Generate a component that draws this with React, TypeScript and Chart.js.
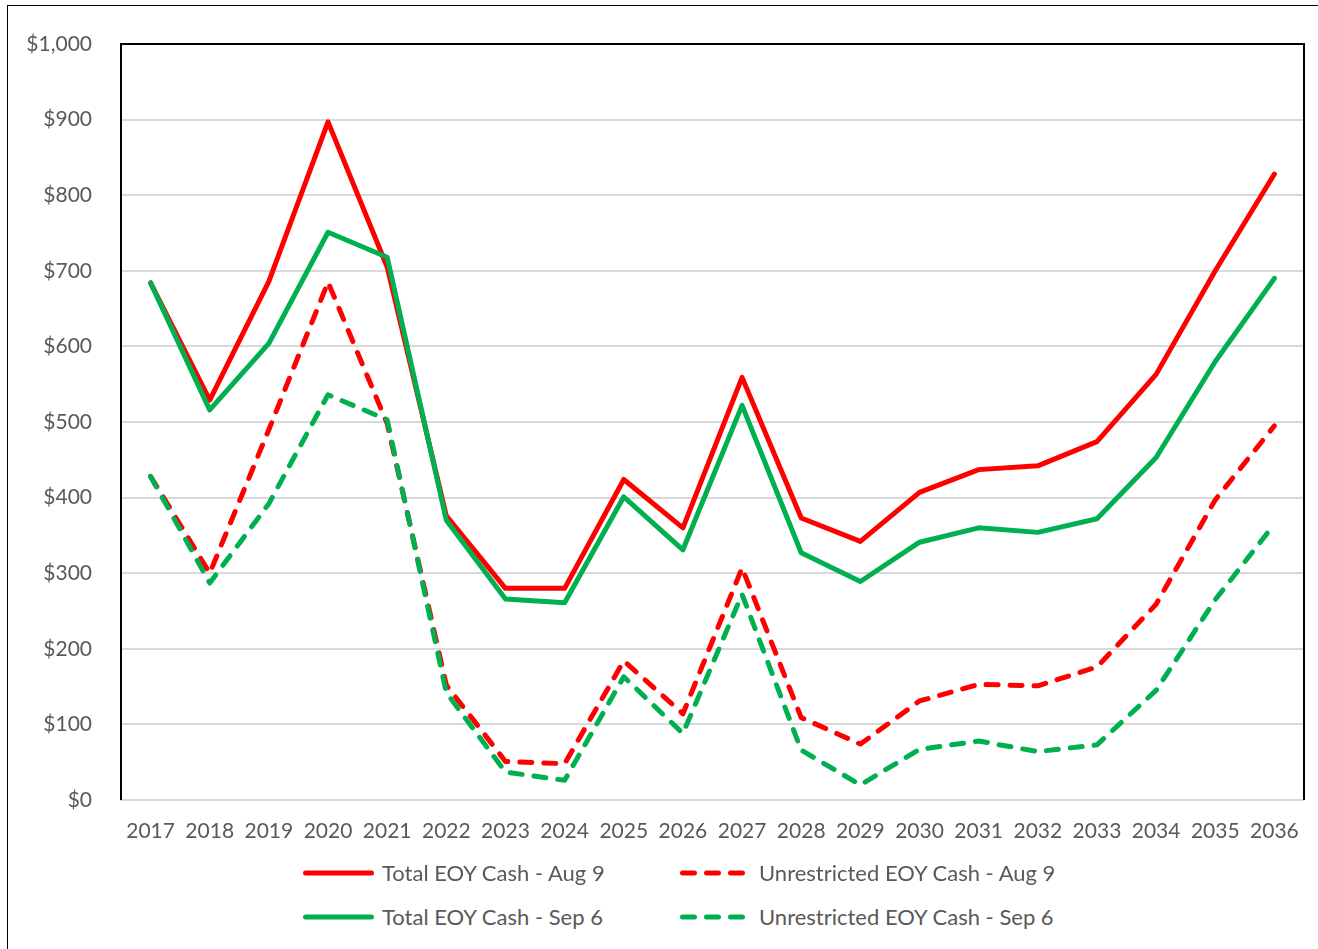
import React, { useEffect, useRef } from 'react';
import { Chart, registerables } from 'chart.js';

Chart.register(...registerables);

const years = ['2017', '2018', '2019', '2020', '2021', '2022', '2023', '2024', '2025', '2026', '2027', '2028', '2029', '2030', '2031', '2032', '2033', '2034', '2035', '2036'];

const totalAug9 = [684, 529, 686, 897, 705, 376, 280, 280, 424, 360, 559, 373, 342, 407, 437, 442, 474, 563, 700, 828];
const unrestrictedAug9 = [428, 300, 490, 685, 498, 152, 51, 48, 184, 114, 307, 109, 74, 131, 153, 151, 176, 259, 397, 495];
const totalSep6 = [684, 516, 604, 751, 718, 370, 266, 261, 401, 331, 522, 327, 289, 341, 360, 354, 372, 453, 580, 690];
const unrestrictedSep6 = [428, 287, 392, 536, 503, 142, 37, 26, 163, 88, 272, 66, 20, 67, 78, 64, 73, 145, 265, 365];

const yTicks = [0, 100, 200, 300, 400, 500, 600, 700, 800, 900, 1000];

const RED = '#FF0000';
const GREEN = '#00B050';
const TEXT = '#595959';
const FONT = 'Lato, Carlito, Calibri, "Open Sans", sans-serif';

const legendItems = [
  { label: 'Total EOY Cash - Aug 9', color: RED, dashed: false },
  { label: 'Unrestricted EOY Cash - Aug 9', color: RED, dashed: true },
  { label: 'Total EOY Cash - Sep 6', color: GREEN, dashed: false },
  { label: 'Unrestricted EOY Cash - Sep 6', color: GREEN, dashed: true },
];

export default function App() {
  const ref = useRef<HTMLCanvasElement>(null);

  useEffect(() => {
    if (!ref.current) return;
    const frame = {
      id: 'plotFrame',
      beforeDatasetsDraw(chart: any) {
        const { ctx, chartArea } = chart;
        const { left, right, top, bottom } = chartArea;
        ctx.save();
        ctx.strokeStyle = '#000000';
        ctx.lineWidth = 2;
        ctx.beginPath();
        ctx.moveTo(left, bottom);
        ctx.lineTo(left, top);
        ctx.lineTo(right, top);
        ctx.lineTo(right, bottom);
        ctx.stroke();
        ctx.restore();
      },
    };

    const solid = (label: string, data: number[], color: string, order: number) => ({
      label,
      data,
      borderColor: color,
      backgroundColor: color,
      borderWidth: 5,
      borderCapStyle: 'round' as const,
      borderJoinStyle: 'round' as const,
      pointRadius: 0,
      tension: 0,
      fill: false,
      order,
    });
    const dashed = (label: string, data: number[], color: string, order: number) => ({
      ...solid(label, data, color, order),
      borderDash: [12, 12],
    });

    const chart = new Chart(ref.current, {
      type: 'line',
      data: {
        labels: years,
        datasets: [
          solid('Total EOY Cash - Aug 9', totalAug9, RED, 3),
          dashed('Unrestricted EOY Cash - Aug 9', unrestrictedAug9, RED, 2),
          solid('Total EOY Cash - Sep 6', totalSep6, GREEN, 1),
          dashed('Unrestricted EOY Cash - Sep 6', unrestrictedSep6, GREEN, 0),
        ],
      },
      options: {
        animation: false,
        responsive: false,
        devicePixelRatio: 1,
        layout: { padding: { top: 44, right: 9, left: 0, bottom: 0 } },
        plugins: { legend: { display: false }, tooltip: { enabled: false } },
        scales: {
          x: {
            offset: true,
            grid: { display: false, drawTicks: false },
            border: { display: true, color: '#d9d9d9', width: 2 },
            ticks: {
              color: TEXT,
              font: { family: FONT, size: 21 },
              padding: 19,
              maxRotation: 0,
              autoSkip: false,
            },
            afterFit(s: any) {
              s.height = 60;
            },
          },
          y: {
            min: 0,
            max: 1000,
            afterBuildTicks(s: any) {
              s.ticks = yTicks.map((v) => ({ value: v }));
            },
            ticks: {
              color: TEXT,
              font: { family: FONT, size: 21 },
              padding: 29,
              callback: (v: any) => '$' + Number(v).toLocaleString('en-US'),
            },
            grid: { color: '#d9d9d9', lineWidth: 2, drawTicks: false },
            border: { display: false },
            afterFit(s: any) {
              s.width = 121;
            },
          },
        },
      },
      plugins: [frame],
    } as any);
    return () => chart.destroy();
  }, []);

  const col1 = { line: 303, text: 382 };
  const col2 = { line: 680, text: 759 };
  const rows = [873, 917];

  return (
    <div>
      <div
        style={{
          position: 'absolute',
          left: 7,
          top: 5,
          width: 1311,
          height: 944,
          borderLeft: '1px solid #000',
          borderTop: '1px solid #000',
          boxSizing: 'border-box',
        }}
      />
      <canvas
        ref={ref}
        width={1318}
        height={860}
        style={{ position: 'absolute', left: 0, top: 0, width: 1318, height: 860 }}
      />
      {legendItems.map((it, i) => {
        const col = i % 2 === 0 ? col1 : col2;
        const y = rows[Math.floor(i / 2)];
        const lineLen = it.dashed ? 60 : 66;
        return (
          <React.Fragment key={it.label}>
            <svg
              width={lineLen + 10}
              height={12}
              style={{ position: 'absolute', left: col.line - 2, top: y - 6 }}
            >
              <line
                x1={4.5}
                y1={6}
                x2={4.5 + lineLen}
                y2={6}
                stroke={it.color}
                strokeWidth={5}
                strokeLinecap="round"
                strokeDasharray={it.dashed ? '12 12' : undefined}
              />
            </svg>
            <div
              style={{
                position: 'absolute',
                left: col.text,
                top: y - 14,
                height: 28,
                lineHeight: '28px',
                fontFamily: FONT,
                fontSize: 22,
                color: TEXT,
                whiteSpace: 'nowrap',
              }}
            >
              {it.label}
            </div>
          </React.Fragment>
        );
      })}
    </div>
  );
}
